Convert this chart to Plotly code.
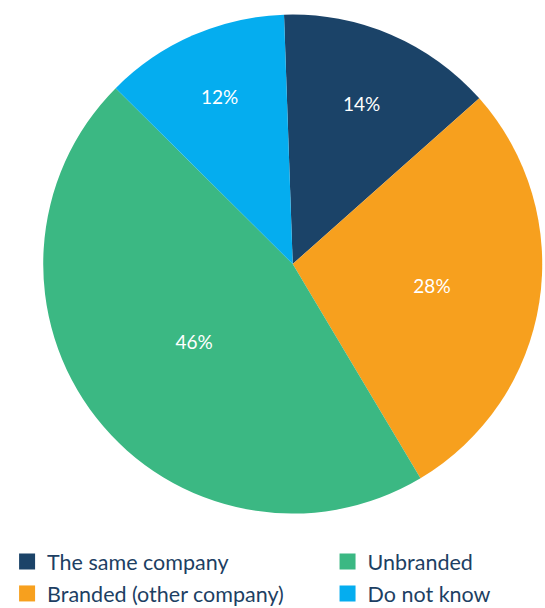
import plotly.graph_objects as go

# Survey answer shares (percent)
categories = ["The same company", "Branded (other company)", "Unbranded", "Do not know"]
shares = [14, 28, 46, 12]
colors = ["#1b4368", "#f7a01e", "#3bb883", "#05adef"]

# Legend columns: left column holds the first two answers, right column the last two
left_column = ["The same company", "Branded (other company)"]
right_column = ["Unbranded", "Do not know"]

fig = go.Figure()

fig.add_trace(go.Pie(
    labels=categories,
    values=shares,
    sort=False,
    direction="clockwise",
    rotation=-2,
    marker=dict(colors=colors, line=dict(width=0)),
    texttemplate="%{value}%",
    textposition="inside",
    insidetextorientation="horizontal",
    textfont=dict(family="Lato", size=19, color="white"),
    hoverinfo="label+percent",
    showlegend=False,
    domain=dict(x=[0.0793, 0.9949], y=[0.1554, 0.9762]),
))

color_of = dict(zip(categories, colors))
for legend_id, column in (("legend", left_column), ("legend2", right_column)):
    for name in column:
        fig.add_trace(go.Scatter(
            x=[None], y=[None],
            mode="markers",
            name=name,
            legend=legend_id,
            legendgroup=name,
            marker=dict(symbol="square", size=17, color=color_of[name]),
            showlegend=True,
        ))

legend_style = dict(
    orientation="v",
    y=-0.0099, yanchor="bottom",
    xanchor="left",
    font=dict(family="Lato", size=21.5, color="#1d3f63"),
    bgcolor="rgba(0,0,0,0)",
    tracegroupgap=1,
    itemclick=False,
)

fig.update_layout(
    width=545,
    height=608,
    margin=dict(l=0, r=0, t=0, b=0, autoexpand=False),
    paper_bgcolor="white",
    plot_bgcolor="white",
    xaxis=dict(visible=False),
    yaxis=dict(visible=False),
    font=dict(family="Lato", color="#1d3f63"),
    legend=dict(x=0.013, **legend_style),
    legend2=dict(x=0.601, **legend_style),
)

fig.write_html("out.html")
